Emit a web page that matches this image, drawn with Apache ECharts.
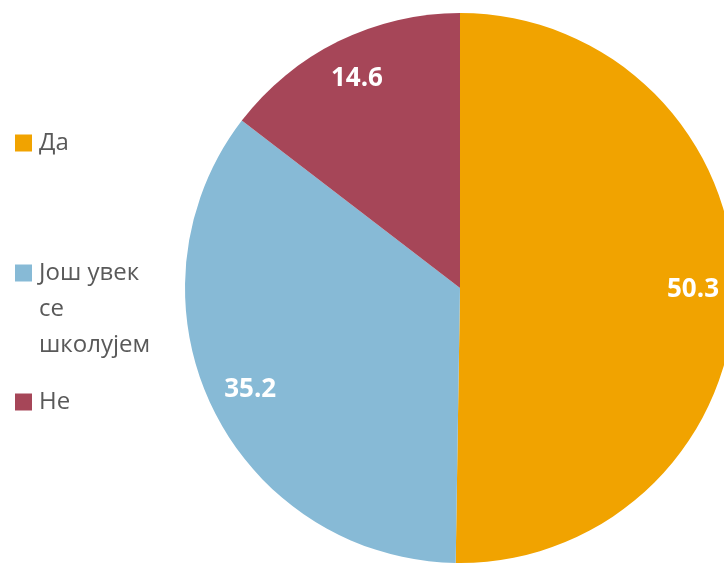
<!DOCTYPE html>
<html>
<head>
<meta charset="utf-8">
<script src="https://cdn.jsdelivr.net/npm/echarts@6/dist/echarts.min.js"></script>
<style>
  html, body { margin: 0; padding: 0; background: #fff; }
  #pieChart { width: 724px; height: 563px; }
</style>
</head>
<body>
<div id="pieChart"></div>
<script>
  let categories = ['Да', 'Још увек се школујем', 'Не']
  let values = [50.3, 35.2, 14.6]
  let colors = ['#F1A300', '#87BAD6', '#A64658']

  let pieData = categories.map(function (name, i) {
    return { name: name, value: values[i], itemStyle: { color: colors[i] } }
  })

  let legendText = {
    color: '#595959',
    fontFamily: 'Open Sans',
    fontSize: 24,
    lineHeight: 36,
    padding: [0, 0, 0, 2]
  }

  function oneLegend(name, top, formatter) {
    return {
      data: [name],
      orient: 'vertical',
      left: 15,
      top: top,
      padding: 0,
      itemWidth: 17,
      itemHeight: 17,
      icon: 'rect',
      selectedMode: false,
      textStyle: legendText,
      formatter: formatter
    }
  }

  let pieChart = echarts.init(document.getElementById('pieChart'))
  pieChart.setOption({
    animation: false,
    color: colors,
    legend: [
      oneLegend(categories[0], 125),
      // icon sits on the first line of the wrapped label
      oneLegend(categories[1], 183, function () {
        return '\n\nЈош увек\nсе\nшколујем'
      }),
      oneLegend(categories[2], 384)
    ],
    series: [{
      name: 'pie',
      type: 'pie',
      center: [460, 288],
      radius: 275,
      startAngle: 90,
      clockwise: true,
      label: { show: false },
      labelLine: { show: false },
      itemStyle: { borderWidth: 0 },
      emphasis: { disabled: true },
      data: pieData
    }, {
      // transparent ring used only to place the value labels
      name: 'labels',
      type: 'pie',
      center: [460, 288],
      radius: [185, 275],
      startAngle: 90,
      clockwise: true,
      silent: true,
      itemStyle: { color: 'transparent', borderWidth: 0 },
      label: {
        show: true,
        position: 'inside',
        color: '#fff',
        fontFamily: 'Open Sans',
        fontWeight: 'bold',
        fontSize: 26,
        formatter: function (p) { return p.value.toFixed(1) }
      },
      labelLine: { show: false },
      emphasis: { disabled: true },
      data: categories.map(function (name, i) {
        return { name: name, value: values[i] }
      })
    }]
  })
</script>
</body>
</html>
